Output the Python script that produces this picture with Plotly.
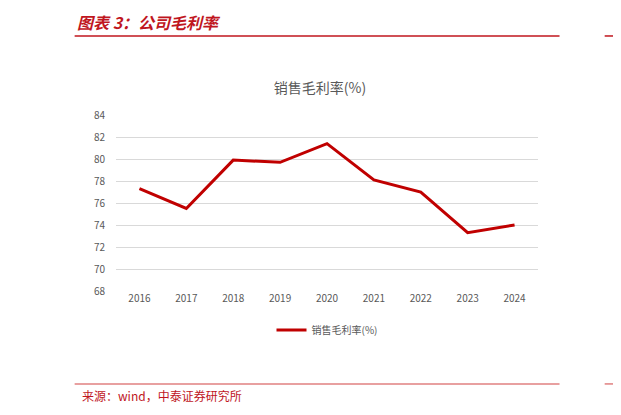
import plotly.graph_objects as go

years = ["2016","2017","2018","2019","2020","2021","2022","2023","2024"]
margin = [77.3, 75.5, 79.9, 79.7, 81.4, 78.1, 77.0, 73.3, 74.0]
name = "销售毛利率(%)"

fig = go.Figure(go.Scatter(x=years, y=margin, mode="lines", name=name,
                           line=dict(color="#C00000", width=3)))
red = "#C0161E"
fig.update_layout(
    width=613, height=407, paper_bgcolor="white", plot_bgcolor="white",
    margin=dict(l=108, r=83, t=107, b=124),
    font=dict(family="Noto Sans CJK SC", size=11, color="#595959"),
    title=dict(text=name, x=0.509, xanchor="center", y=0.803, yanchor="middle",
               font=dict(size=14, color="#595959")),
    xaxis=dict(type="category", range=[-0.5, 8.5], showgrid=False, showline=False, ticks="",
               tickfont=dict(size=10, color="#595959")),
    yaxis=dict(range=[68, 84], dtick=2, gridcolor="#D9D9D9", zeroline=False,
               tickfont=dict(size=10, color="#595959"), ticks="outside", ticklen=8,
               tickcolor="rgba(0,0,0,0)"),
    showlegend=True,
    legend=dict(orientation="h", x=0.5, xanchor="center", y=-0.222, yanchor="middle",
                font=dict(size=10, color="#595959")),
    shapes=[
        dict(type="line", xref="paper", yref="paper", x0=-0.098, x1=1.051, y0=1.449, y1=1.449,
             line=dict(color=red, width=1.5)),
        dict(type="line", xref="paper", yref="paper", x0=1.158, x1=1.2, y0=1.449, y1=1.449,
             line=dict(color=red, width=1.5)),
        dict(type="line", xref="paper", yref="paper", x0=-0.098, x1=1.051, y0=-0.528, y1=-0.528,
             line=dict(color="#E08080", width=1.5)),
        dict(type="line", xref="paper", yref="paper", x0=1.158, x1=1.2, y0=-0.528, y1=-0.528,
             line=dict(color="#E08080", width=1.5)),
    ],
    annotations=[
        dict(text="<b><i>图表 3：公司毛利率</i></b>", xref="paper", yref="paper", x=-0.098, y=1.528,
             xanchor="left", yanchor="middle", showarrow=False,
             font=dict(size=16, color=red, family="Noto Sans CJK SC")),
        dict(text="来源：wind，中泰证券研究所", xref="paper", yref="paper", x=-0.086, y=-0.591,
             xanchor="left", yanchor="middle", showarrow=False,
             font=dict(size=12, color=red, family="Noto Sans CJK SC")),
    ],
)
fig.write_html("out.html")
